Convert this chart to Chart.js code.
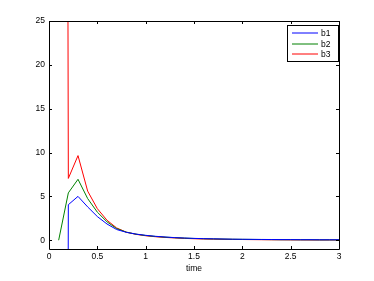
<!DOCTYPE html>
<html>
<head>
<meta charset="utf-8">
<script src="https://cdn.jsdelivr.net/npm/chart.js@4/dist/chart.umd.min.js"></script>
<style>
  html, body { margin: 0; padding: 0; background: #fff; }
  #wrap { width: 374px; height: 281px; }
</style>
</head>
<body>
<div id="wrap"><canvas id="plot"></canvas></div>
<script>
// time samples (step 0.1)
const t = [0.1,0.2,0.3,0.4,0.5,0.6,0.7,0.8,0.9,1.0,1.1,1.2,1.3,1.4,1.5,1.6,1.7,1.8,1.9,2.0,
           2.1,2.2,2.3,2.4,2.5,2.6,2.7,2.8,2.9,3.0];
// b1 / b3 blow up at the first sample (off the axes)
const b1 = [-500,4.05,5.0,3.8,2.7,1.85,1.22,0.9,0.7,0.56,0.45,0.37,0.3,0.25,0.21,0.18,0.16,0.14,0.12,0.11,
            0.10,0.09,0.08,0.07,0.07,0.06,0.06,0.05,0.05,0.05];
const b2 = [0,5.4,6.95,4.75,3.2,2.1,1.33,0.92,0.69,0.54,0.43,0.35,0.29,0.24,0.2,0.17,0.15,0.13,0.11,0.10,
            0.09,0.08,0.07,0.06,0.06,0.05,0.05,0.04,0.04,0.04];
const b3 = [500,7.05,9.65,5.6,3.6,2.28,1.4,0.92,0.67,0.51,0.4,0.32,0.26,0.21,0.17,0.14,0.12,0.1,0.09,0.08,
            0.07,0.06,0.05,0.05,0.04,0.04,0.03,0.03,0.03,0.03];
const xTicks = [0,0.5,1,1.5,2,2.5,3];
const yTicks = [0,5,10,15,20,25];
const names = ['b1','b2','b3'];
const colors = ['#0000ff','#008000','#ff0000'];

const series = [b1, b2, b3];
const FONT = { family: "'Liberation Sans', Arial, Helvetica, sans-serif", size: 8.5 };

// matlab-ish box, inward ticks and legend in the upper right
const boxPlugin = {
  id: 'box',
  afterDraw(chart) {
    const ctx = chart.ctx, a = chart.chartArea;
    const xs = chart.scales.x, ys = chart.scales.y;
    ctx.save();
    ctx.strokeStyle = '#000';
    ctx.lineWidth = 1;
    ctx.beginPath();
    ctx.rect(Math.round(a.left) + 0.5, Math.round(a.top) + 0.5,
             Math.round(a.right - a.left), Math.round(a.bottom - a.top));
    ctx.stroke();
    ctx.beginPath();
    xTicks.forEach(v => {
      const px = Math.round(xs.getPixelForValue(v)) + 0.5;
      ctx.moveTo(px, a.bottom); ctx.lineTo(px, a.bottom - 3);
      ctx.moveTo(px, a.top); ctx.lineTo(px, a.top + 3);
    });
    yTicks.forEach(v => {
      const py = Math.round(ys.getPixelForValue(v)) + 0.5;
      ctx.moveTo(a.left, py); ctx.lineTo(a.left + 3, py);
      ctx.moveTo(a.right, py); ctx.lineTo(a.right - 3, py);
    });
    ctx.stroke();

    // legend
    const lx = 287, ly = 25, lw = 51, lh = 36;
    ctx.fillStyle = '#fff';
    ctx.fillRect(lx, ly, lw, lh);
    ctx.strokeStyle = '#000';
    ctx.strokeRect(lx + 0.5, ly + 0.5, lw, lh);
    ctx.font = `${FONT.size}px ${FONT.family}`;
    ctx.textBaseline = 'middle';
    names.forEach((n, i) => {
      const yy = Math.round(ly + 8.3 + i * 10.3);
      ctx.strokeStyle = colors[i];
      ctx.beginPath();
      ctx.moveTo(lx + 5, yy); ctx.lineTo(lx + 31, yy);
      ctx.stroke();
      ctx.fillStyle = '#000';
      ctx.fillText(n, lx + 34, yy + 0.5);
    });
    ctx.restore();
  }
};

new Chart(document.getElementById('plot'), {
  type: 'scatter',
  data: {
    datasets: series.map((s, i) => ({
      label: names[i],
      data: t.map((x, j) => ({ x: x, y: s[j] })),
      showLine: true,
      borderColor: colors[i],
      borderWidth: 1,
      pointRadius: 0,
      fill: false
    }))
  },
  options: {
    responsive: true,
    maintainAspectRatio: false,
    animation: false,
    layout: { padding: { top: 21, right: 35, left: 0, bottom: 0 } },
    plugins: { legend: { display: false }, tooltip: { enabled: false } },
    scales: {
      x: {
        type: 'linear', min: 0, max: 3,
        grid: { display: false, drawTicks: false }, border: { display: false },
        afterBuildTicks: s => { s.ticks = xTicks.map(v => ({ value: v })); },
        afterFit: s => { s.height = 32; },
        ticks: { color: '#000', font: FONT, padding: 3, maxRotation: 0, callback: v => String(v) },
        title: { display: true, text: 'time', color: '#000', font: FONT, padding: { top: 0, bottom: 7 } }
      },
      y: {
        type: 'linear', min: -1, max: 25,
        grid: { display: false, drawTicks: false }, border: { display: false },
        afterBuildTicks: s => { s.ticks = yTicks.map(v => ({ value: v })); },
        afterFit: s => { s.width = 49; },
        ticks: { color: '#000', font: FONT, padding: 4, callback: v => String(v) }
      }
    }
  },
  plugins: [boxPlugin]
});
</script>
</body>
</html>
